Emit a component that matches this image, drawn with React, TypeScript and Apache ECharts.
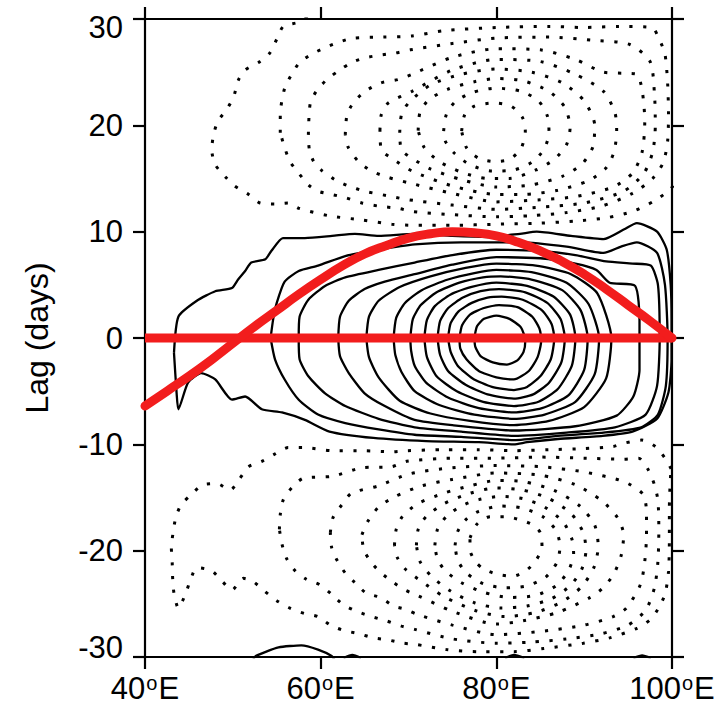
import React, { useEffect, useRef } from 'react';
import * as echarts from 'echarts';

// ---------- axis ticks ----------
const lonTicks = [40, 60, 80, 100];
const lagTicks = [-30, -20, -10, 0, 10, 20, 30];

// ---------- red reference lines (lon, lag) ----------
const redBaseline = [[40, 0], [100, 0]];
const redCurve = [
  [40, -6.4], [42.5, -5.0], [45, -3.6], [47.5, -2.1], [50, -0.5], [52.5, 1.1], [55, 2.6],
  [57.5, 4.1], [60, 5.5], [62.5, 6.8], [65, 7.9], [67.5, 8.7], [70, 9.4], [72.5, 9.8],
  [75, 10.0], [77.5, 9.9], [80, 9.6], [82.5, 9.0], [85, 8.2], [87.5, 7.2], [90, 6.0],
  [92.5, 4.6], [95, 3.1], [97.5, 1.6], [100, 0],
];

// ---------- solid (positive) contours ----------
const solid01 = [
  [43.3, -1.4], [43.8, 2.0], [45.9, 3.5], [48.0, 4.4], [49.9, 4.7], [50.6, 5.5], [51.4, 6.3],
  [52.1, 7.1], [53.7, 7.4], [54.4, 8.2], [55.7, 9.4], [58.2, 9.4], [61.3, 9.6], [63.9, 9.8],
  [66.6, 9.6], [70.7, 9.8], [75.0, 9.6], [79.0, 9.5], [82.7, 9.8], [84.6, 10.0], [88.5, 9.6],
  [92.2, 9.3], [94.5, 10.2], [96.0, 10.8], [98.3, 10.0], [99.4, 8.3], [99.85, 5.0], [99.95, 1.7],
  [99.95, -2.0], [99.6, -5.1], [98.3, -7.6], [95.5, -8.8], [92.1, -9.2], [87.0, -9.5],
  [83.5, -9.8], [82.0, -10.0], [78.0, -9.8], [72.0, -9.7], [66.0, -9.4], [61.0, -8.8],
  [58.2, -7.7], [55.6, -7.0], [53.3, -6.7], [51.4, -5.5], [49.9, -5.8], [48.0, -3.9],
  [46.4, -3.3], [44.9, -4.2], [43.8, -6.7], [43.6, -5.2], [43.3, -1.4],
];
const solid02 = [
  [54.3, 0], [54.6, 1.8], [55.0, 3.3], [55.9, 5.3], [57.5, 6.3], [59.7, 6.8], [62.8, 7.7],
  [66.6, 8.3], [70.7, 8.8], [76.0, 9.0], [82.7, 9.0], [88.0, 8.6], [92.2, 8.0], [94.2, 8.6],
  [96.0, 9.0], [98.3, 8.0], [99.2, 5.0], [99.5, 0], [99.3, -4.5], [98.4, -7.2], [96.5, -8.4],
  [92.2, -8.9], [87.0, -9.2], [82.0, -9.6], [76.0, -9.3], [70.7, -9.1], [66.6, -8.6],
  [62.8, -8.0], [59.7, -7.2], [57.5, -5.8], [55.9, -3.9], [54.8, -2.0], [54.3, 0],
];
const solid03 = [
  [57.5, 0], [57.6, 2.0], [58.6, 3.6], [60.5, 4.9], [62.8, 5.7], [66.6, 6.4], [70.7, 7.1],
  [75.0, 7.8], [80.0, 8.3], [85.0, 8.2], [89.0, 7.8], [92.5, 7.2], [95.5, 7.0], [97.6, 6.8],
  [98.4, 5.0], [98.6, 0], [98.3, -4.5], [97.0, -7.2], [93.5, -8.4], [88.0, -8.9], [82.0, -9.2],
  [76.0, -8.8], [70.7, -8.4], [66.6, -7.6], [62.8, -6.4], [60.5, -5.2], [58.6, -3.6],
  [57.6, -2.0], [57.5, 0],
];
const solid04 = [
  [62.0, 0], [62.2, 2.0], [63.2, 3.5], [65.0, 4.6], [67.3, 5.3], [70.7, 6.0], [75.0, 6.9],
  [80.0, 7.6], [85.0, 7.5], [89.0, 7.0], [91.4, 6.4], [92.9, 5.2], [95.8, 4.9], [96.3, 1.7],
  [96.3, -3.0], [95.6, -5.5], [93.7, -7.3], [89.0, -8.3], [82.0, -8.7], [75.0, -8.2],
  [70.7, -7.7], [67.3, -6.4], [65.0, -5.2], [63.2, -3.3], [62.2, -1.7], [62.0, 0],
];
const solid05 = [
  [65.2, 0], [65.5, 2.0], [66.6, 3.5], [69.0, 4.8], [72.5, 5.8], [76.5, 6.6], [80.0, 7.0],
  [84.5, 6.8], [88.5, 6.0], [91.5, 4.2], [93.1, 0], [92.5, -3.8], [90.0, -6.5], [86.0, -7.8],
  [82.0, -8.2], [77.0, -7.8], [72.5, -7.1], [69.0, -5.9], [66.6, -3.7], [65.5, -1.8], [65.2, 0],
];
const solid06 = [
  [68.3, 0], [68.6, 1.9], [69.6, 3.3], [71.5, 4.5], [74.5, 5.5], [77.5, 6.1], [80.0, 6.4],
  [84.0, 6.2], [88.0, 5.2], [90.5, 3.2], [91.7, 0], [91.2, -3.4], [89.0, -6.0], [85.5, -7.2],
  [82.0, -7.6], [77.5, -7.2], [73.5, -6.3], [70.7, -5.0], [69.2, -3.2], [68.5, -1.6], [68.3, 0],
];
const solid07 = [
  [70.2, 0], [70.5, 1.8], [71.4, 3.1], [73.2, 4.3], [75.8, 5.2], [78.5, 5.7], [80.5, 5.8],
  [84.0, 5.5], [87.5, 4.5], [89.6, 2.6], [90.4, 0], [90.0, -3.0], [88.2, -5.4], [85.2, -6.6],
  [82.0, -7.0], [78.0, -6.6], [74.5, -5.6], [72.0, -4.2], [70.7, -2.6], [70.3, -1.2], [70.2, 0],
];
const solid08 = [
  [71.8, 0], [72.1, 1.7], [73.0, 3.0], [74.8, 4.1], [77.2, 4.8], [80.0, 5.2], [83.5, 4.9],
  [86.5, 3.9], [88.4, 2.2], [89.0, 0], [88.6, -2.6], [87.0, -4.8], [84.8, -6.0], [82.0, -6.4],
  [78.5, -6.0], [75.5, -5.0], [73.2, -3.6], [72.1, -1.8], [71.8, 0],
];
const solid09 = [
  [73.3, 0], [73.6, 1.6], [74.5, 2.8], [76.2, 3.8], [78.2, 4.4], [80.3, 4.6], [83.3, 4.3],
  [85.8, 3.3], [87.3, 1.8], [87.8, 0], [87.4, -2.3], [86.0, -4.2], [84.2, -5.3], [82.0, -5.7],
  [79.0, -5.3], [76.5, -4.4], [74.5, -3.1], [73.6, -1.6], [73.3, 0],
];
const solid10 = [
  [74.5, 0], [74.8, 1.4], [75.7, 2.5], [77.2, 3.3], [79.0, 3.8], [80.6, 3.9], [83.0, 3.6],
  [85.2, 2.6], [86.3, 1.3], [86.6, 0], [86.2, -2.0], [85.0, -3.6], [83.5, -4.6], [82.0, -4.9],
  [79.5, -4.6], [77.3, -3.8], [75.6, -2.6], [74.8, -1.3], [74.5, 0],
];
const solid11 = [
  [75.8, 0], [76.1, 1.2], [77.0, 2.2], [78.5, 2.8], [80.3, 3.1], [82.4, 2.9], [84.1, 2.0],
  [84.9, 0.9], [85.1, -0.3], [84.7, -1.8], [83.7, -3.1], [82.0, -3.9], [80.0, -3.7],
  [78.0, -3.1], [76.6, -2.0], [75.9, -1.0], [75.8, 0],
];
const solid12 = [
  [77.5, 0], [77.8, 1.1], [78.6, 1.8], [80.0, 2.1], [81.5, 1.8], [82.8, 1.0], [83.3, -0.2],
  [83.1, -1.3], [82.4, -2.1], [81.2, -2.5], [79.6, -2.3], [78.2, -1.7], [77.6, -0.8], [77.5, 0],
];
const solidEdge1 = [[52.3, -30.3], [52.6, -29.9], [55.2, -29.1], [57.8, -28.9], [59.7, -29.3], [61.25, -29.9], [61.6, -30.3]];
const solidEdge2 = [[62.6, -30.1], [63.6, -29.8], [64.6, -30.1]];
const solidEdge3 = [[81.0, -30.1], [82.0, -29.8], [83.2, -30.1]];
const solidEdge4 = [[95.6, -30.1], [96.6, -29.85], [97.6, -30.1]];

const solidContours = [
  solid01, solid02, solid03, solid04, solid05, solid06, solid07, solid08, solid09, solid10,
  solid11, solid12, solidEdge1, solidEdge2, solidEdge3, solidEdge4,
];

// ---------- dotted (negative) contours, upper lobe ----------
const upper01 = [
  [58.5, 30.2], [57.5, 29.7], [55.75, 29.3], [55.0, 28.1], [54.2, 26.8], [53.1, 26.0],
  [51.4, 25.2], [50.6, 24.2], [50.1, 22.7], [49.3, 21.5], [48.3, 20.4], [47.8, 19.1],
  [47.6, 17.7], [48.0, 16.3], [49.1, 15.2], [50.2, 14.3], [51.8, 13.5], [53.1, 12.7],
  [54.8, 12.6], [56.3, 12.7], [57.5, 12.2], [60.9, 11.5], [64.7, 11.1], [68.1, 10.7],
  [70.5, 10.6], [75.0, 10.6], [80.0, 10.7], [85.0, 10.8], [89.0, 11.0], [92.5, 11.3],
  [95.5, 11.9], [98.0, 12.9], [99.7, 13.9], [100.3, 14.5],
];
const upper02 = [
  [55.4, 19.3], [55.4, 21.0], [55.9, 23.5], [56.7, 24.8], [57.6, 25.9], [59.0, 26.7],
  [60.5, 27.3], [62.0, 27.8], [63.7, 28.2], [67.1, 28.3], [70.4, 28.4], [74.0, 28.9],
  [80.0, 29.2], [86.0, 29.3], [90.0, 29.2], [94.0, 29.3], [97.7, 29.2], [98.6, 28.0],
  [99.2, 26.7], [99.5, 24.0], [99.6, 21.0], [99.5, 18.5], [99.0, 16.5], [97.8, 15.0],
  [95.5, 13.6], [92.0, 12.4], [88.0, 11.8], [84.0, 11.5], [80.0, 11.4], [75.0, 11.6],
  [70.4, 11.9], [68.8, 12.2], [66.6, 12.4], [64.7, 12.7], [62.8, 13.2], [61.25, 13.5],
  [59.7, 13.8], [58.6, 14.4], [57.5, 15.5], [56.5, 16.6], [55.9, 17.9], [55.4, 19.3],
];
const upper03 = [
  [58.6, 19.1], [58.8, 22.0], [59.5, 23.2], [60.7, 24.3], [62.0, 25.1], [63.5, 25.9],
  [65.05, 26.35], [66.75, 26.6], [68.5, 26.8], [70.2, 27.1], [75.0, 27.7], [80.0, 28.2],
  [86.0, 28.3], [91.0, 28.0], [95.2, 27.6], [97.5, 26.0], [98.0, 23.0], [98.1, 20.0],
  [97.8, 17.5], [96.8, 15.5], [94.5, 13.8], [90.0, 12.7], [85.0, 12.3], [80.0, 12.1],
  [75.0, 12.5], [70.0, 13.0], [68.1, 13.3], [65.05, 13.8], [63.15, 14.3], [61.6, 14.9],
  [60.2, 15.7], [59.2, 16.6], [58.7, 17.8], [58.6, 19.1],
];
const upper04 = [
  [62.8, 19.1], [63.0, 21.0], [63.7, 22.1], [65.05, 23.2], [66.9, 24.0], [68.8, 24.3],
  [70.4, 24.8], [75.0, 26.4], [80.0, 27.2], [85.0, 27.1], [89.0, 26.2], [92.2, 25.0],
  [94.5, 24.9], [96.0, 24.8], [96.6, 23.3], [96.9, 20.4], [96.6, 17.5], [95.5, 15.5],
  [93.3, 14.2], [89.0, 13.3], [85.0, 13.0], [80.0, 12.8], [75.0, 13.6], [70.0, 14.6],
  [67.7, 15.1], [65.8, 15.7], [64.3, 16.6], [63.15, 17.9], [62.8, 19.1],
];
const upper05 = [
  [66.75, 19.5], [66.9, 21.0], [67.7, 22.1], [70.4, 23.2], [75.0, 25.2], [80.0, 26.2],
  [85.0, 26.0], [89.0, 24.8], [92.2, 23.2], [93.5, 21.2], [93.7, 19.5], [93.4, 17.5],
  [92.5, 16.0], [90.5, 14.8], [87.0, 13.9], [83.0, 13.5], [80.0, 13.5], [75.0, 14.3],
  [70.4, 15.7], [68.1, 16.9], [66.9, 17.7], [66.75, 19.5],
];
const upper06 = [
  [69.0, 19.3], [69.2, 21.0], [70.0, 22.1], [72.5, 23.8], [76.0, 24.8], [80.0, 25.3],
  [84.0, 25.0], [87.5, 24.0], [90.0, 22.3], [91.2, 20.0], [91.0, 18.0], [89.8, 16.4],
  [87.5, 15.2], [84.0, 14.4], [80.0, 14.2], [76.0, 14.9], [72.5, 15.9], [70.4, 16.9],
  [69.2, 17.7], [69.0, 19.3],
];
const upper07 = [
  [71.1, 19.5], [71.3, 21.2], [72.3, 22.4], [74.5, 23.4], [77.5, 24.1], [80.0, 24.4],
  [83.0, 24.2], [86.0, 23.2], [87.8, 21.7], [88.4, 19.8], [88.0, 18.2], [86.6, 16.8],
  [84.5, 15.8], [81.5, 15.0], [79.0, 15.0], [76.0, 15.6], [73.5, 16.6], [71.8, 17.9], [71.1, 19.5],
];
const upper08 = [
  [74.0, 19.45], [74.3, 21.0], [75.3, 22.2], [77.3, 23.1], [80.0, 23.5], [82.8, 23.2],
  [84.8, 22.3], [85.8, 20.9], [86.0, 19.3], [85.4, 17.7], [84.0, 16.5], [82.0, 15.8],
  [79.5, 15.7], [77.0, 16.3], [75.2, 17.4], [74.2, 18.5], [74.0, 19.45],
];
const upper09 = [
  [76.05, 19.45], [76.4, 21.0], [77.5, 21.8], [79.7, 22.1], [81.7, 21.8], [83.0, 20.7],
  [83.3, 19.45], [82.8, 17.8], [81.5, 16.8], [79.85, 16.6], [78.0, 16.9], [76.6, 17.9], [76.05, 19.45],
];

// ---------- dotted (negative) contours, lower lobe ----------
const lower01 = [
  [99.9, -12.3], [99.2, -11.3], [98.1, -10.2], [96.55, -9.6], [94.5, -9.9], [93.3, -10.2],
  [90.0, -10.4], [86.0, -10.5], [82.0, -10.6], [78.0, -10.5], [74.0, -10.5], [69.8, -10.6],
  [68.1, -10.7], [64.9, -10.6], [61.4, -10.6], [58.0, -10.3], [56.3, -10.3], [54.8, -10.9],
  [53.3, -11.6], [51.8, -12.1], [50.8, -13.2], [49.7, -14.3], [48.2, -13.7], [46.6, -13.8],
  [45.3, -14.7], [44.1, -15.7], [43.5, -16.9], [43.2, -18.3], [43.0, -19.7], [43.1, -21.2],
  [43.15, -22.6], [43.3, -24.0], [43.8, -25.4], [44.6, -24.1], [45.2, -22.7], [45.9, -21.6],
  [47.6, -21.9], [48.8, -22.9], [49.9, -23.7], [51.2, -22.6], [52.3, -22.9], [53.6, -23.8],
  [55.0, -24.7], [56.5, -25.4], [58.1, -25.9], [59.7, -26.2], [61.1, -27.0], [62.6, -27.5],
  [64.3, -27.8], [66.0, -28.2], [67.7, -28.4], [69.4, -28.7], [70.7, -28.8], [74.3, -29.3],
  [78.1, -29.5], [82.0, -29.5], [85.4, -29.2], [89.9, -28.7], [92.9, -28.2], [96.0, -27.3],
  [97.5, -26.5], [98.4, -25.5], [99.2, -24.1], [99.6, -22.0], [99.7, -19.0], [99.7, -16.0],
  [99.8, -13.5], [99.9, -12.3],
];
const lower02 = [
  [55.3, -18.0], [55.4, -16.6], [55.75, -15.2], [56.7, -14.1], [58.0, -13.2], [61.4, -13.0],
  [64.7, -12.2], [68.1, -12.1], [69.8, -11.6], [75.0, -11.3], [80.0, -11.3], [85.0, -11.2],
  [90.0, -11.3], [94.5, -11.4], [96.2, -11.3], [97.3, -12.4], [98.0, -13.8], [98.4, -15.3],
  [98.5, -18.0], [98.4, -21.0], [98.0, -23.5], [97.0, -25.6], [95.0, -27.0], [92.0, -27.8],
  [88.0, -28.3], [84.0, -28.6], [80.0, -28.7], [75.0, -28.3], [70.7, -27.4], [69.2, -27.1],
  [67.5, -26.6], [65.8, -26.2], [64.1, -25.7], [62.6, -25.1], [61.25, -24.1], [59.9, -23.2],
  [58.4, -22.7], [57.1, -21.9], [56.1, -20.7], [55.6, -19.4], [55.3, -18.0],
];
const lower03 = [
  [61.1, -18.3], [61.4, -16.9], [62.4, -15.7], [63.5, -14.6], [66.6, -13.9], [70.0, -12.8],
  [75.0, -12.2], [80.0, -12.0], [85.0, -12.1], [90.0, -12.6], [94.5, -13.5], [96.7, -14.7],
  [97.1, -16.5], [97.1, -18.5], [96.9, -21.0], [96.4, -23.2], [94.8, -25.4], [93.3, -26.2],
  [90.0, -27.0], [85.0, -27.6], [80.0, -27.9], [75.0, -27.0], [71.0, -26.0], [69.6, -25.5],
  [68.3, -25.2], [66.8, -24.4], [65.2, -24.0], [63.9, -23.0], [62.8, -22.1], [61.8, -20.8],
  [61.25, -19.7], [61.1, -18.3],
];
const lower04 = [
  [64.7, -18.5], [65.4, -17.2], [66.6, -15.9], [68.5, -14.9], [71.5, -13.9], [75.0, -13.3],
  [80.0, -12.7], [85.0, -12.9], [89.0, -13.8], [92.0, -15.3], [93.8, -16.9], [94.5, -18.5],
  [94.2, -20.5], [93.3, -22.3], [92.0, -23.6], [90.7, -24.4], [87.0, -25.8], [83.0, -26.6],
  [80.0, -26.9], [75.0, -25.7], [71.0, -24.2], [69.6, -23.7], [68.3, -23.0], [66.9, -22.1],
  [65.8, -21.15], [64.9, -19.9], [64.7, -18.5],
];
const lower05 = [
  [68.4, -19.5], [68.6, -18.0], [69.3, -16.8], [71.0, -15.6], [74.0, -14.6], [77.0, -13.9],
  [80.0, -13.4], [83.0, -13.5], [86.5, -14.3], [89.5, -15.8], [91.2, -17.6], [91.6, -19.6],
  [91.1, -21.6], [89.7, -23.4], [87.5, -24.8], [84.5, -25.8], [81.0, -26.2], [77.5, -25.6],
  [74.0, -24.3], [71.5, -22.9], [69.6, -21.7], [68.7, -20.6], [68.4, -19.5],
];
const lower06 = [
  [70.9, -19.5], [71.1, -18.0], [72.0, -16.8], [74.0, -15.6], [77.0, -14.6], [80.0, -14.1],
  [83.0, -14.3], [86.0, -15.1], [88.5, -16.5], [89.9, -18.3], [90.2, -20.0], [89.7, -21.8],
  [88.4, -23.3], [86.3, -24.5], [83.5, -25.2], [80.5, -25.4], [77.5, -24.9], [74.8, -23.8],
  [72.6, -22.4], [71.3, -21.0], [70.9, -19.5],
];
const lower07 = [
  [73.0, -19.5], [73.3, -18.0], [74.3, -16.8], [76.0, -15.8], [78.0, -15.2], [80.5, -14.9],
  [83.0, -15.1], [85.5, -15.9], [87.6, -17.3], [88.6, -18.9], [88.8, -20.3], [88.2, -21.9],
  [86.8, -23.3], [84.5, -24.2], [81.5, -24.4], [78.5, -23.9], [76.0, -23.0], [74.2, -21.9],
  [73.3, -20.8], [73.0, -19.5],
];
const lower08 = [
  [75.3, -19.5], [75.6, -18.2], [76.5, -17.1], [78.0, -16.3], [80.5, -15.8], [83.0, -16.0],
  [85.3, -16.8], [86.8, -18.1], [87.25, -19.6], [86.9, -21.1], [85.6, -22.5], [83.5, -23.3],
  [81.0, -23.5], [78.5, -23.1], [76.6, -22.1], [75.6, -20.9], [75.3, -19.5],
];
const lower09 = [
  [77.0, -18.8], [77.8, -17.5], [79.3, -16.8], [81.0, -16.8], [82.7, -17.1], [84.2, -17.6],
  [85.0, -18.3], [85.2, -19.6], [84.6, -20.8], [83.5, -21.8], [81.9, -22.4], [80.0, -22.2],
  [78.5, -21.7], [77.6, -21.0], [77.0, -19.9], [77.0, -18.8],
];

const dottedContours = [
  upper01, upper02, upper03, upper04, upper05, upper06, upper07, upper08, upper09,
  lower01, lower02, lower03, lower04, lower05, lower06, lower07, lower08, lower09,
];

const FONT = '"Liberation Sans", Arial, Helvetica, sans-serif';

export default function App() {
  const ref = useRef<HTMLDivElement>(null);

  useEffect(() => {
    if (!ref.current) return;
    const chart = echarts.init(ref.current, undefined, { renderer: 'svg' });

    const axisCommon = {
      type: 'value' as const,
      axisLine: { show: true, onZero: false, lineStyle: { color: '#000', width: 2.2 } },
      axisTick: { show: true, inside: false, length: 12, lineStyle: { color: '#000', width: 2.2 } },
      splitLine: { show: false },
    };

    const series: any[] = [];
    solidContours.forEach((c) => {
      series.push({
        type: 'line',
        data: c,
        symbol: 'none',
        smooth: 0.2,
        silent: true,
        z: 2,
        lineStyle: { color: '#000', width: 2.3, type: 'solid', join: 'round' },
      });
    });
    dottedContours.forEach((c) => {
      series.push({
        type: 'line',
        data: c,
        symbol: 'none',
        smooth: 0.25,
        silent: true,
        z: 2,
        lineStyle: { color: '#000', width: 3, type: [3.2, 10.5], cap: 'butt' },
      });
    });
    series.push({
      type: 'line',
      data: redBaseline,
      symbol: 'none',
      silent: true,
      z: 5,
      lineStyle: { color: '#f21d1d', width: 9 },
    });
    series.push({
      type: 'line',
      data: redCurve,
      symbol: 'none',
      smooth: true,
      silent: true,
      z: 5,
      lineStyle: { color: '#f21d1d', width: 9, cap: 'round' },
    });

    chart.setOption({
      animation: false,
      backgroundColor: '#fff',
      grid: { left: 145, right: 52, top: 19, bottom: 67 },
      xAxis: [
        {
          ...axisCommon,
          position: 'bottom',
          min: lonTicks[0],
          max: lonTicks[lonTicks.length - 1],
          interval: 20,
          axisLabel: {
            show: true,
            margin: 16,
            color: '#000',
            fontFamily: FONT,
            fontSize: 31,
            formatter: (v: number) => `${v}{o|o}E`,
            rich: {
              o: { fontSize: 20, fontFamily: FONT, color: '#000', verticalAlign: 'top', lineHeight: 20, padding: [0, 1, 0, 1] },
            },
          },
        },
        {
          ...axisCommon,
          position: 'top',
          min: lonTicks[0],
          max: lonTicks[lonTicks.length - 1],
          interval: 20,
          axisLabel: { show: false },
        },
      ],
      yAxis: [
        {
          ...axisCommon,
          position: 'left',
          min: lagTicks[0],
          max: lagTicks[lagTicks.length - 1],
          interval: 10,
          name: 'Lag (days)',
          nameLocation: 'middle',
          nameRotate: 90,
          nameGap: 92,
          nameTextStyle: { color: '#000', fontFamily: FONT, fontSize: 32 },
          axisLabel: {
            show: true,
            margin: 22,
            color: '#000',
            fontFamily: FONT,
            fontSize: 31,
            formatter: (v: number) =>
              v === lagTicks[lagTicks.length - 1] ? `{t|${v}}` : v === lagTicks[0] ? `{b|${v}}` : `${v}`,
            rich: {
              t: { fontSize: 31, fontFamily: FONT, color: '#000', padding: [16, 0, 0, 0] },
              b: { fontSize: 31, fontFamily: FONT, color: '#000', padding: [0, 0, 20, 0] },
            },
          },
        },
        {
          ...axisCommon,
          position: 'right',
          min: lagTicks[0],
          max: lagTicks[lagTicks.length - 1],
          interval: 10,
          axisLabel: { show: false },
        },
      ],
      series,
    });

    return () => chart.dispose();
  }, []);

  return (
    <div
      ref={ref}
      style={{ position: 'fixed', left: 0, top: 0, width: 724, height: 724, background: '#fff' }}
    />
  );
}
